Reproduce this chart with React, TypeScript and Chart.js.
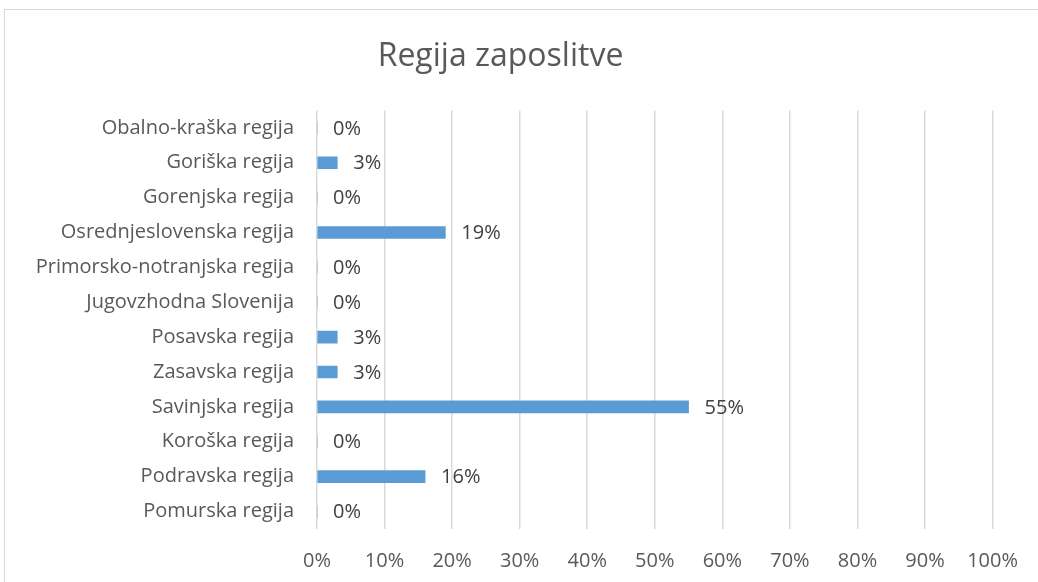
import React, { useEffect, useRef } from "react";
import { Chart, registerables } from "chart.js";

Chart.register(...registerables);

const categories = [
  "Obalno-kraška regija",
  "Goriška regija",
  "Gorenjska regija",
  "Osrednjeslovenska regija",
  "Primorsko-notranjska regija",
  "Jugovzhodna Slovenija",
  "Posavska regija",
  "Zasavska regija",
  "Savinjska regija",
  "Koroška regija",
  "Podravska regija",
  "Pomurska regija",
];
const values = [0, 3, 0, 19, 0, 0, 3, 3, 55, 0, 16, 0];
const xTicks = [0, 10, 20, 30, 40, 50, 60, 70, 80, 90, 100];
const titleText = "Regija zaposlitve";

const FONT = "'Open Sans', Lato, sans-serif";
const FS = 20;

const labelPlugin = {
  id: "barLabels",
  afterDatasetsDraw(chart: any) {
    const ctx = chart.ctx;
    const meta = chart.getDatasetMeta(0);
    ctx.save();
    ctx.font = `${FS}px ${FONT}`;
    ctx.fillStyle = "#404040";
    ctx.textAlign = "left";
    ctx.textBaseline = "middle";
    meta.data.forEach((bar: any, i: number) => {
      ctx.fillText(values[i] + "%", bar.x + 16, bar.y + 1);
    });
    ctx.restore();
  },
};

export default function App() {
  const ref = useRef<HTMLCanvasElement>(null);
  useEffect(() => {
    document.body.style.margin = "0";
    const chart = new Chart(ref.current!, {
      type: "bar",
      data: {
        labels: categories,
        datasets: [
          {
            data: values,
            backgroundColor: "#5B9BD5",
            barThickness: 12,
          },
        ],
      },
      options: {
        indexAxis: "y",
        animation: false,
        responsive: false,
        maintainAspectRatio: false,
        layout: { padding: { left: 0, right: 37, top: 0, bottom: 0 } },
        plugins: {
          legend: { display: false },
          tooltip: { enabled: false },
          title: {
            display: true,
            text: titleText,
            color: "#595959",
            font: { family: FONT, size: 32, weight: "normal" },
            padding: { top: 38, bottom: 34 },
          },
        },
        scales: {
          x: {
            min: 0,
            max: 100,
            afterBuildTicks(scale: any) {
              scale.ticks = xTicks.map((v) => ({ value: v }));
            },
            afterFit(scale: any) {
              scale.height = 53;
            },
            grid: { color: "#D9D9D9", lineWidth: 1.5, drawTicks: false },
            border: { display: false },
            ticks: {
              padding: 20,
              color: "#595959",
              font: { family: FONT, size: FS },
              callback: (v: any) => v + "%",
            },
          },
          y: {
            afterFit(scale: any) {
              scale.width = 317;
            },
            grid: { display: false, drawTicks: false },
            border: { display: false },
            ticks: {
              padding: 23,
              color: "#595959",
              font: { family: FONT, size: FS },
            },
          },
        },
      },
      plugins: [labelPlugin],
    });
    return () => chart.destroy();
  }, []);
  return (
    <div style={{ position: "relative", width: 1038, height: 582, overflow: "hidden", background: "#fff" }}>
      <canvas ref={ref} width={1038} height={582} style={{ position: "absolute", left: 0, top: 0 }} />
      <div
        style={{
          position: "absolute",
          left: 4,
          top: 9,
          width: 1060,
          height: 600,
          border: "1px solid #D9D9D9",
          boxSizing: "border-box",
          pointerEvents: "none",
        }}
      />
    </div>
  );
}
